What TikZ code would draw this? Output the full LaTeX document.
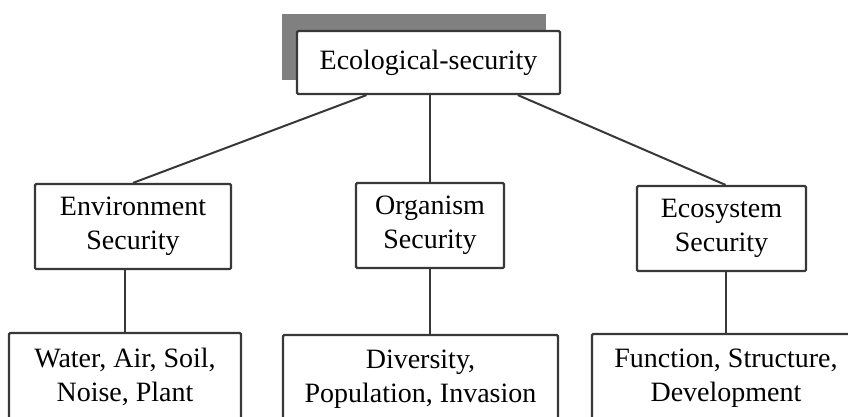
\documentclass[tikz,border=0pt]{standalone}
\usepackage{fontspec}
\setmainfont{Liberation Serif}
\usetikzlibrary{calc}
\begin{document}
\begin{tikzpicture}[x=1pt,y=-1pt,
  box/.style={draw=black!78, line width=2.2pt, rounded corners=1.2pt, fill=white,
    align=center, inner sep=0pt, minimum height=85pt,
    font=\fontsize{28}{34}\selectfont},
  leaf/.style={box, minimum height=88pt},
  link/.style={draw=black!78, line width=2pt}]
\useasboundingbox (0,0) rectangle (848,416);
\clip (0,0) rectangle (848,416);
\fill[white] (0,0) rectangle (848,416);

% shadow behind the root box
\fill[black!50] (282,14) rectangle (546,80);

% root
\node[box, minimum width=263pt, minimum height=63pt] (root) at (428.5,62.5) {Ecological-security};

% second level
\node[box, minimum width=196pt] (env) at (133,226.5) {Environment\\Security};
\node[box, minimum width=148pt] (org) at (430,225.5) {Organism\\Security};
\node[box, minimum width=169pt] (eco) at (721.5,228.5) {Ecosystem\\Security};

% leaves
\node[leaf, minimum width=232pt] (envl) at (125,377) {Water, Air, Soil,\\Noise, Plant};
\node[leaf, minimum width=275pt] (orgl) at (420.5,379) {Diversity,\\Population, Invasion};
\node[leaf, minimum width=268pt] (ecol) at (726,378) {Function, Structure,\\Development};

% connectors
\coordinate (rl) at ($(root.south west)!0.266!(root.south east)$);
\coordinate (rr) at ($(root.south west)!0.837!(root.south east)$);
\coordinate (et) at ($(eco.north)+(4,0)$);
\draw[link] (rl) -- (env.north);
\draw[link] (root.south -| org.north) -- (org.north);
\draw[link] (rr) -- (et);
\draw[link] (envl.north |- env.south) -- (envl.north);
\draw[link] (org.south) -- (org.south |- orgl.north);
\draw[link] (ecol.north |- eco.south) -- (ecol.north);
\end{tikzpicture}
\end{document}
